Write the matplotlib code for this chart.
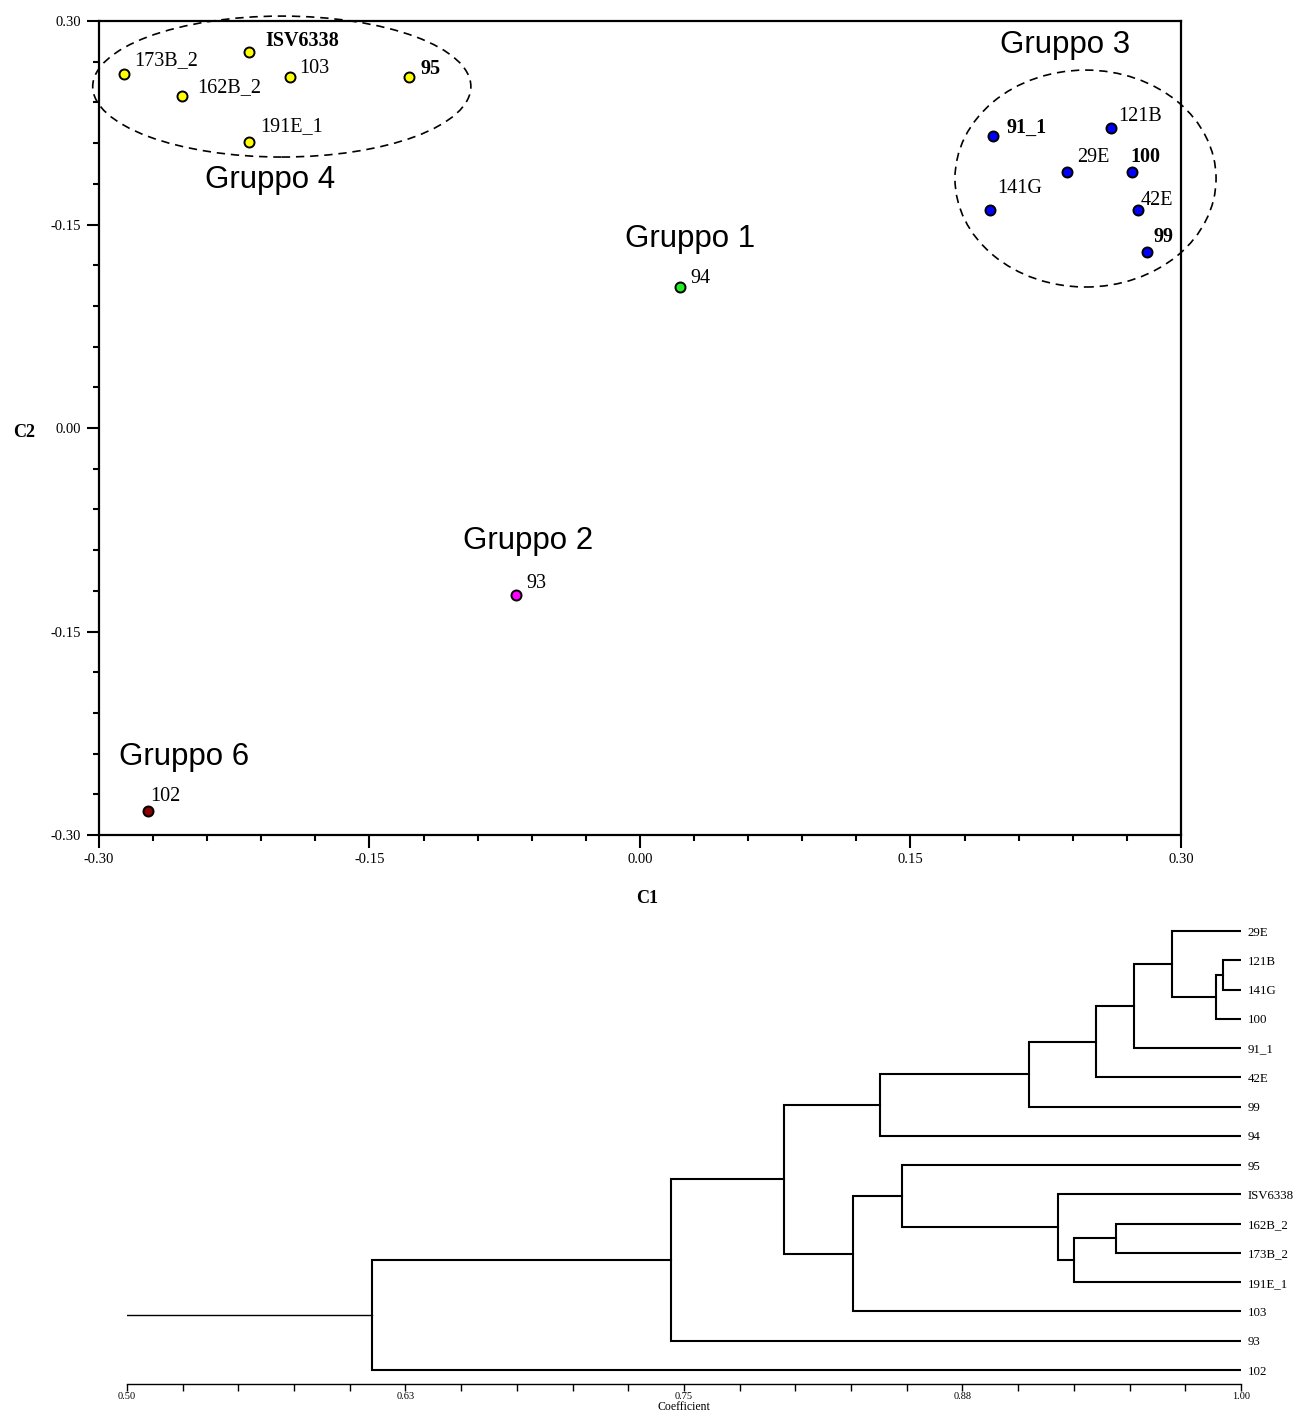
import numpy as np
import matplotlib.pyplot as plt
from matplotlib.patches import Ellipse
from matplotlib.ticker import MultipleLocator, FixedLocator, FixedFormatter

# --- PCoA coordinates -------------------------------------------------------
names = ["173B_2", "ISV6338", "103", "95", "162B_2", "191E_1",
         "91_1", "121B", "29E", "100", "141G", "42E", "99",
         "94", "93", "102"]
c1 = [-0.286, -0.217, -0.194, -0.128, -0.254, -0.217,
      0.196, 0.261, 0.237, 0.273, 0.194, 0.276, 0.281,
      0.022, -0.069, -0.273]
c2 = [0.261, 0.277, 0.259, 0.259, 0.245, 0.211,
      0.215, 0.221, 0.189, 0.189, 0.161, 0.161, 0.130,
      0.104, -0.123, -0.282]
group = [4, 4, 4, 4, 4, 4, 3, 3, 3, 3, 3, 3, 3, 1, 2, 6]
bold_names = ["ISV6338", "95", "91_1", "100", "99"]

group_ids = [3, 4, 1, 2, 6]
group_labels = ["Gruppo 3", "Gruppo 4", "Gruppo 1", "Gruppo 2", "Gruppo 6"]

y_tick_vals = [0.30, 0.15, 0.00, -0.15, -0.30]
y_tick_text = ["0.30", "-0.15", "0.00", "-0.15", "-0.30"]
x_tick_vals = [-0.30, -0.15, 0.00, 0.15, 0.30]
x_tick_text = ["-0.30", "-0.15", "0.00", "0.15", "0.30"]

# --- UPGMA dendrogram --------------------------------------------------------
leaves = ["29E", "121B", "141G", "100", "91_1", "42E", "99", "94",
          "95", "ISV6338", "162B_2", "173B_2", "191E_1", "103", "93", "102"]
# (child a, child b, coefficient); "m<i>" is the i-th merge
merges = [
    ("121B", "141G", 0.992),
    ("m0", "100", 0.989),
    ("29E", "m1", 0.969),
    ("m2", "91_1", 0.952),
    ("m3", "42E", 0.935),
    ("m4", "99", 0.905),
    ("m5", "94", 0.838),
    ("162B_2", "173B_2", 0.944),
    ("m7", "191E_1", 0.925),
    ("ISV6338", "m8", 0.918),
    ("95", "m9", 0.848),
    ("m10", "103", 0.826),
    ("m6", "m11", 0.795),
    ("m12", "93", 0.744),
    ("m13", "102", 0.610),
]
coef_ticks = [0.50, 0.625, 0.75, 0.875, 1.00]
coef_tick_text = ["0.50", "0.63", "0.75", "0.88", "1.00"]

# --- styling / layout --------------------------------------------------------
colors = {4: "#ffff00", 3: "#0000ff", 1: "#22ee22", 2: "#ff00ff", 6: "#8b0000"}
# label offsets in pixels (dx, dy)
label_off = {"173B_2": (10, 13), "ISV6338": (17, 11), "103": (9, 8),
             "95": (11, 8), "162B_2": (15, 8), "191E_1": (12, 15),
             "91_1": (13, 8), "121B": (8, 12), "29E": (10, 14),
             "100": (-2, 15), "141G": (7, 21), "42E": (3, 9), "99": (7, 15),
             "94": (11, 8), "93": (11, 11), "102": (3, 14)}
group_pos = {3: (0.2357, 0.2822), 4: (-0.2052, 0.1828), 1: (0.0277, 0.1393),
             2: (-0.0621, -0.0833), 6: (-0.2529, -0.2424)}

serif = "Liberation Serif"
sans = "Liberation Sans"

fig = plt.figure(figsize=(13.02, 14.12), dpi=100)

# ---------------- scatter -------------------------------------------------
ax = fig.add_axes([0.0760, 0.4086, 0.8310, 0.5765])
ax.set_xlim(-0.30, 0.30)
ax.set_ylim(-0.30, 0.30)

for n, x, y, g in zip(names, c1, c2, group):
    ax.scatter(x, y, s=52, color=colors[g], edgecolor="black",
               linewidth=1.4, zorder=3, clip_on=False)
    dx, dy = label_off[n]
    ax.annotate(n, (x, y), xytext=(dx, dy), textcoords="offset pixels",
                ha="left", va="center", fontsize=14.5, family=serif,
                fontweight="bold" if n in bold_names else "normal")

for gid, lab in zip(group_ids, group_labels):
    gx, gy = group_pos[gid]
    ax.text(gx, gy, lab, ha="center", va="center", fontsize=22.5, family=sans)

# dashed ellipses around groups 3 and 4
for (cx, cy), (w, h) in [((-0.1986, 0.2517), (0.2097, 0.1039)),
                         ((0.2471, 0.1839), (0.1448, 0.1599))]:
    ax.add_patch(Ellipse((cx, cy), w, h, fill=False, edgecolor="black",
                         linewidth=1.2, linestyle=(0, (5, 3.5)),
                         clip_on=False, zorder=2))

for s in ax.spines.values():
    s.set_linewidth(1.6)
ax.xaxis.set_major_locator(FixedLocator(x_tick_vals))
ax.xaxis.set_major_formatter(FixedFormatter(x_tick_text))
ax.yaxis.set_major_locator(FixedLocator(y_tick_vals))
ax.yaxis.set_major_formatter(FixedFormatter(y_tick_text))
ax.xaxis.set_minor_locator(MultipleLocator(0.03))
ax.yaxis.set_minor_locator(MultipleLocator(0.03))
ax.tick_params(which="major", direction="out", length=9, width=1.5,
               labelsize=10.5, pad=4)
ax.tick_params(which="minor", direction="out", length=4.5, width=1.5)
for t in ax.get_xticklabels() + ax.get_yticklabels():
    t.set_family(serif)

ax.set_xlabel("C1", fontsize=13, fontweight="bold", family=serif)
ax.xaxis.set_label_coords(0.5065, -0.067)
ax.set_ylabel("C2", fontsize=13, fontweight="bold", family=serif,
              rotation=0, ha="center", va="center")
ax.yaxis.set_label_coords(-0.0693, 0.495)

# ---------------- dendrogram ------------------------------------------------
dax = fig.add_axes([0.0975, 0.01983, 0.8556, 0.3286])
n_leaf = len(leaves)
pos = {lf: (1.0, n_leaf - 1 - i) for i, lf in enumerate(leaves)}
lw = 1.5
for i, (a, b, h) in enumerate(merges):
    xa, ya = pos[a]
    xb, yb = pos[b]
    dax.plot([xa, h, h, xb], [ya, ya, yb, yb], color="black", lw=lw,
             solid_joinstyle="miter")
    pos["m%d" % i] = (h, (ya + yb) / 2)
rx, ry = pos["m%d" % (len(merges) - 1)]
dax.plot([0.50, rx], [ry, ry], color="black", lw=1.0)

dax.set_xlim(0.50, 1.00)
dax.set_ylim(-0.478, n_leaf - 1 + 0.376)
for k in ["top", "right", "left"]:
    dax.spines[k].set_visible(False)
dax.spines["bottom"].set_linewidth(1.0)
dax.xaxis.set_major_locator(FixedLocator(coef_ticks))
dax.xaxis.set_major_formatter(FixedFormatter(coef_tick_text))
dax.xaxis.set_minor_locator(MultipleLocator(0.025))
dax.tick_params(axis="x", which="both", direction="out", length=5, width=1.0,
                labelsize=7.5, pad=1)
dax.yaxis.tick_right()
dax.set_yticks(range(n_leaf))
dax.set_yticklabels(leaves[::-1])
dax.tick_params(axis="y", length=0, pad=5, labelsize=9.3)
for t in dax.get_xticklabels() + dax.get_yticklabels():
    t.set_family(serif)
dax.set_xlabel("Coefficient", fontsize=8.5, family=serif, labelpad=0)

fig.savefig("out.png", dpi=100)
